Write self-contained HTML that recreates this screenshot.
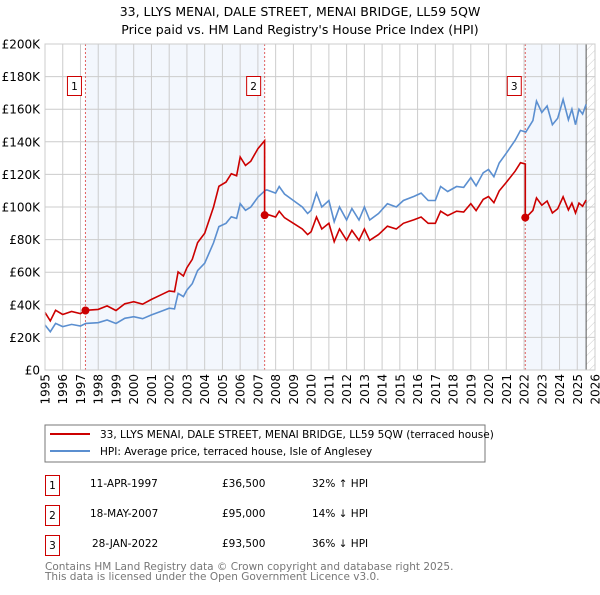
<!DOCTYPE html>
<html><head><meta charset="utf-8"><style>
body{margin:0;background:#fff;font-family:"Liberation Sans","DejaVu Sans",sans-serif;}
svg text{font-family:"DejaVu Sans","Liberation Sans",sans-serif;}
</style></head><body>
<svg id="c" width="600" height="590" xmlns="http://www.w3.org/2000/svg">
<defs><pattern id="hatch" width="6" height="6" patternUnits="userSpaceOnUse" patternTransform="rotate(45)"><line x1="0" y1="0" x2="0" y2="6" stroke="#ccc" stroke-width="1"/></pattern></defs>
<text x="300" y="16" text-anchor="middle" font-size="12.5">33, LLYS MENAI, DALE STREET, MENAI BRIDGE, LL59 5QW</text>
<text x="300" y="34" text-anchor="middle" font-size="12.5">Price paid vs. HM Land Registry's House Price Index (HPI)</text>
<g id="plot"></g>
<rect x="45" y="425" width="440" height="37" fill="#fff" stroke="#777"/>
<line x1="50" y1="434" x2="90" y2="434" stroke="#cc0000" stroke-width="2"/>
<text x="100" y="438" font-size="10.5">33, LLYS MENAI, DALE STREET, MENAI BRIDGE, LL59 5QW (terraced house)</text>
<line x1="50" y1="451" x2="90" y2="451" stroke="#5b8fd0" stroke-width="2"/>
<text x="100" y="455" font-size="10.5">HPI: Average price, terraced house, Isle of Anglesey</text>
<g font-size="10.5">
<rect x="45.5" y="475.5" width="14" height="20" fill="none" stroke="#cc0000"/><text x="52.5" y="489" text-anchor="middle">1</text>
<text x="90" y="487">11-APR-1997</text><text x="222" y="487">£36,500</text><text x="312" y="487">32% ↑ HPI</text>
<rect x="45.5" y="505.5" width="14" height="20" fill="none" stroke="#cc0000"/><text x="52.5" y="519" text-anchor="middle">2</text>
<text x="90" y="517">18-MAY-2007</text><text x="222" y="517">£95,000</text><text x="312" y="517">14% ↓ HPI</text>
<rect x="45.5" y="535.5" width="14" height="20" fill="none" stroke="#cc0000"/><text x="52.5" y="549" text-anchor="middle">3</text>
<text x="92" y="547">28-JAN-2022</text><text x="222" y="547">£93,500</text><text x="312" y="547">36% ↓ HPI</text>
</g>
<text x="45" y="570" font-size="10.5" fill="#777">Contains HM Land Registry data © Crown copyright and database right 2025.</text>
<text x="45" y="580" font-size="10.5" fill="#777">This data is licensed under the Open Government Licence v3.0.</text>
</svg>
<script>
const hpiYears=[1995,1995.3,1995.6,1996,1996.5,1997,1997.3,1998,1998.5,1999,1999.5,2000,2000.5,2001,2001.5,2002,2002.3,2002.5,2002.8,2003,2003.3,2003.6,2004,2004.5,2004.8,2005.2,2005.5,2005.8,2006,2006.3,2006.6,2007,2007.4,2007.5,2008,2008.2,2008.5,2009,2009.5,2009.8,2010,2010.3,2010.6,2011,2011.3,2011.6,2012,2012.3,2012.7,2013,2013.3,2013.8,2014.3,2014.8,2015.2,2015.8,2016.2,2016.6,2017,2017.3,2017.7,2018.2,2018.6,2019,2019.3,2019.7,2020,2020.3,2020.6,2021,2021.5,2021.8,2022.1,2022.5,2022.7,2023,2023.3,2023.6,2023.9,2024.2,2024.5,2024.7,2024.9,2025.1,2025.3,2025.5];
const hpiValues=[27.6,23.5,28.6,26.6,28,27,28.6,29,30.7,28.5,31.7,32.7,31.5,33.8,35.8,37.9,37.5,47,45,49,53,61,65.5,78,88,90,94,93,102,98,100,106,110,110.5,108.5,112.6,108,104,100,96,98,108.5,100,104,91,100,92,99,92,100,92,96,102,100,104,106.5,108.5,104,104,112.6,109.5,112.6,112,118,113,121,123,118.6,127,133,141,147,146,153,165,158,162,150.5,154.5,166,153.5,160,150.5,160,157,163];
const saleDates=[1997.28,2007.38,2022.07];
const salePrices=[36.5,95,93.5];
const yTicks=[0,20,40,60,80,100,120,140,160,180,200];
const xTicks=[1995,1996,1997,1998,1999,2000,2001,2002,2003,2004,2005,2006,2007,2008,2009,2010,2011,2012,2013,2014,2015,2016,2017,2018,2019,2020,2021,2022,2023,2024,2025,2026];
const X0=45,X1=595,Y0=370,Y1=44;
const xs=y=>X0+(y-1995)/(2026-1995)*(X1-X0);
const ys=v=>Y0-v/200*(Y0-Y1);
const NS="http://www.w3.org/2000/svg";
const g=document.getElementById('plot');
function mk(t,a){const e=document.createElementNS(NS,t);for(const k in a)e.setAttribute(k,a[k]);g.appendChild(e);return e;}
function hpiAt(t){for(let i=0;i<hpiYears.length-1;i++){if(t<=hpiYears[i+1]){const f=(t-hpiYears[i])/(hpiYears[i+1]-hpiYears[i]);return hpiValues[i]+f*(hpiValues[i+1]-hpiValues[i]);}}return hpiValues[hpiValues.length-1];}
let e;
e=mk('rect',{x:xs(saleDates[0]),y:Y1,width:xs(saleDates[1])-xs(saleDates[0]),height:Y0-Y1,fill:'#eef3fc',opacity:0.7});


e=mk('rect',{x:xs(saleDates[2]),y:Y1,width:xs(2025.5)-xs(saleDates[2]),height:Y0-Y1,fill:'#eef3fc',opacity:0.7});


e=mk('rect',{x:xs(2025.5),y:Y1,width:X1-xs(2025.5),height:Y0-Y1,fill:'url(#hatch)'});


yTicks.forEach(v=>{
 e=mk('line',{x1:X0,x2:X1,y1:ys(v),y2:ys(v),stroke:'#ccc'});
 
 
 e=mk('text',{x:40,y:ys(v)+4.5,'text-anchor':'end','font-size':'12'});e.textContent=v==0?'£0':'£'+v+'K';
 
 
});
xTicks.forEach(y=>{
 e=mk('line',{x1:xs(y),x2:xs(y),y1:Y1,y2:Y0,stroke:'#ccc'});
 
 
 e=mk('text',{x:0,y:0,'font-size':'12','text-anchor':'end',transform:`translate(${xs(y)+4.5},374) rotate(-90)`});e.textContent=y;
 
 
});
e=mk('line',{x1:xs(2025.5),x2:xs(2025.5),y1:Y1,y2:Y0,stroke:'#555'});


saleDates.forEach((d,i)=>{
 e=mk('line',{x1:xs(d),x2:xs(d),y1:Y1,y2:Y0,stroke:'#e06060','stroke-dasharray':'2,2'});
 
 
 e=mk('rect',{x:xs(d)-18,y:76.5,width:14,height:19,fill:'#fff',stroke:'#cc0000'});
 
 
 e=mk('text',{x:xs(d)-11,y:90,'text-anchor':'middle','font-size':'10.5'});e.textContent=i+1;
 
 
});
// HPI line
let p=hpiYears.map((y,i)=>(i?'L':'M')+xs(y).toFixed(1)+','+ys(hpiValues[i]).toFixed(1)).join('');
e=mk('path',{d:p,fill:'none',stroke:'#5b8fd0','stroke-width':1.6});


// Property line (HPI scaled to each sale)
let pts=[];
hpiYears.forEach((y,i)=>{
 let k=0;for(let j=0;j<saleDates.length;j++)if(y>=saleDates[j])k=j;
 if(y<saleDates[1]&&y>=saleDates[0]||y<saleDates[0])k=0;
 const r=salePrices[k]/hpiAt(saleDates[k]);
 pts.push([y,hpiValues[i]*r]);
});
// insert sale step points
let all=[];
pts.forEach(q=>all.push(q));
for(let j=1;j<saleDates.length;j++){
 const d=saleDates[j];const prev=salePrices[j-1]/hpiAt(saleDates[j-1]);
 all.push([d-0.001,hpiAt(d)*prev]);all.push([d,salePrices[j]]);
}
all.push([saleDates[0],salePrices[0]]);
all.sort((a,b)=>a[0]-b[0]);
p=all.map((q,i)=>(i?'L':'M')+xs(q[0]).toFixed(1)+','+ys(q[1]).toFixed(1)).join('');
e=mk('path',{d:p,fill:'none',stroke:'#cc0000','stroke-width':1.6});


saleDates.forEach((d,i)=>{
 e=mk('circle',{cx:xs(d),cy:ys(salePrices[i]),r:4,fill:'#cc0000'});
 
 
});
e=mk('rect',{x:X0,y:Y1,width:X1-X0,height:Y0-Y1,fill:'none',stroke:'#ccc'});


</script>
</body></html>
